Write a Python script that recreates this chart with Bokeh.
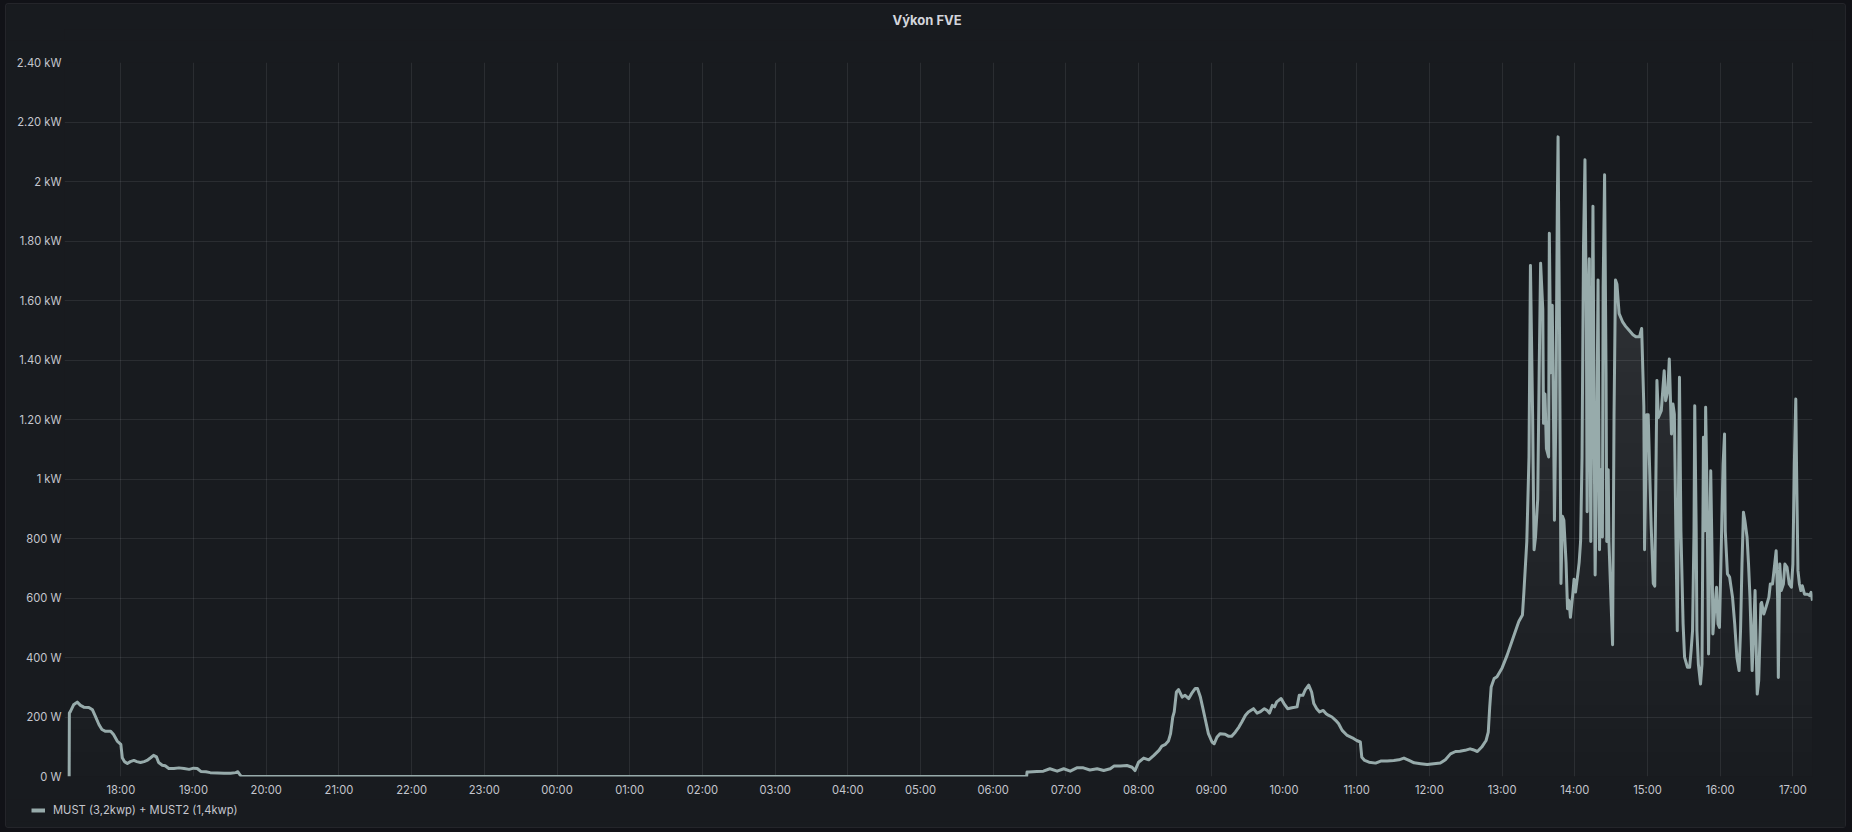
from datetime import datetime, timedelta
import calendar
import numpy as np
from bokeh.plotting import figure
from bokeh.layouts import column
from bokeh.models import Range1d, FixedTicker, DatetimeTickFormatter, Legend, LegendItem
from bokeh.embed import file_html
from bokeh.resources import INLINE

# ---------------- data ----------------
TITLE = "Výkon FVE"
SERIES_NAME = "MUST (3,2kwp) + MUST2 (1,4kwp)"

# day 1 (evening), hours of day
DAY1_H = [17.289, 17.292, 17.307, 17.35, 17.40, 17.445, 17.49, 17.56, 17.61, 17.65, 17.70,
          17.74, 17.79, 17.86, 17.90, 17.95, 18.00, 18.02, 18.05, 18.09, 18.13, 18.18, 18.22,
          18.27, 18.32, 18.36, 18.41, 18.45, 18.49, 18.52, 18.57, 18.61, 18.66, 18.73, 18.80,
          18.87, 18.94, 19.00, 19.05, 19.10, 19.17, 19.23, 19.33, 19.42, 19.51, 19.58, 19.61,
          19.64, 19.66]
DAY1_W = [0, 213, 219, 241, 250, 239, 233, 232, 224, 202, 174,
          158, 152, 152, 141, 119, 108, 63, 50, 44, 50, 54, 50,
          47, 50, 54, 63, 71, 66, 47, 38, 36, 27, 27, 29,
          27, 24, 28, 27, 17, 16, 13, 12, 11, 11, 13, 16,
          5, 0]

# day 2, hours of day
DAY2_H = [6.46, 6.465, 6.49, 6.60, 6.69, 6.78, 6.88, 6.97, 7.06, 7.15, 7.24, 7.33, 7.43, 7.52,
          7.61, 7.66, 7.75, 7.84, 7.91, 7.95, 8.00, 8.07, 8.14, 8.21, 8.28, 8.32, 8.37, 8.41,
          8.44, 8.47, 8.49, 8.52, 8.55, 8.60, 8.64, 8.69, 8.73, 8.78, 8.81, 8.85, 8.88, 8.92,
          8.96, 9.01, 9.04, 9.08, 9.12, 9.19, 9.24, 9.28, 9.33, 9.38, 9.42, 9.47, 9.51, 9.58,
          9.63, 9.67, 9.73, 9.77, 9.80, 9.84, 9.87, 9.90, 9.96, 10.00, 10.05, 10.11, 10.18,
          10.21, 10.26, 10.29, 10.34, 10.38, 10.41, 10.45, 10.49, 10.54, 10.58, 10.61, 10.66,
          10.71, 10.75, 10.80, 10.87, 10.94, 11.00, 11.05, 11.07, 11.11, 11.17, 11.26, 11.33,
          11.42, 11.51, 11.58, 11.65, 11.72, 11.79, 11.88, 11.97, 12.06, 12.15, 12.22, 12.29,
          12.36, 12.42, 12.49, 12.56, 12.60, 12.66, 12.72, 12.78, 12.81, 12.83, 12.85, 12.89,
          12.93, 12.97, 13.00, 13.07, 13.17, 13.23, 13.28, 13.30, 13.34, 13.37, 13.39, 13.42,
          13.44, 13.46, 13.49, 13.51, 13.53, 13.56, 13.57, 13.59, 13.61, 13.64, 13.65, 13.67,
          13.69, 13.71, 13.72, 13.74, 13.76, 13.77, 13.79, 13.81, 13.83, 13.85, 13.88, 13.90,
          13.92, 13.94, 13.97, 13.99, 14.01, 14.04, 14.06, 14.08, 14.10, 14.12, 14.14, 14.16,
          14.17, 14.19, 14.20, 14.22, 14.24, 14.25, 14.27, 14.28, 14.30, 14.32, 14.34, 14.36,
          14.38, 14.39, 14.41, 14.43, 14.44, 14.46, 14.47, 14.50, 14.52, 14.54, 14.56, 14.58,
          14.61, 14.66, 14.70, 14.75, 14.80, 14.84, 14.89, 14.92, 14.95, 14.96, 14.99, 15.01,
          15.05, 15.08, 15.10, 15.12, 15.13, 15.15, 15.19, 15.23, 15.25, 15.28, 15.30, 15.33,
          15.35, 15.37, 15.39, 15.41, 15.43, 15.44, 15.46, 15.49, 15.51, 15.55, 15.58, 15.60,
          15.62, 15.64, 15.65, 15.67, 15.68, 15.70, 15.73, 15.75, 15.77, 15.79, 15.80, 15.82,
          15.84, 15.86, 15.87, 15.89, 15.90, 15.92, 15.95, 15.97, 15.99, 16.01, 16.04, 16.06,
          16.07, 16.10, 16.13, 16.17, 16.20, 16.23, 16.26, 16.28, 16.30, 16.32, 16.34, 16.37,
          16.39, 16.41, 16.44, 16.46, 16.48, 16.50, 16.51, 16.53, 16.56, 16.57, 16.60, 16.63,
          16.67, 16.69, 16.72, 16.75, 16.77, 16.79, 16.80, 16.82, 16.84, 16.87, 16.89, 16.92,
          16.95, 16.98, 17.00, 17.02, 17.04, 17.05, 17.07, 17.09, 17.11, 17.13, 17.16, 17.20,
          17.23, 17.25, 17.27]
DAY2_W = [0, 15, 15, 17, 18, 26, 18, 26, 18, 29, 29, 22, 26, 20,
          26, 35, 35, 37, 31, 20, 48, 62, 56, 71, 88, 102, 108, 119,
          144, 200, 217, 284, 292, 267, 273, 262, 279, 296, 296, 267, 234, 189,
          144, 116, 110, 133, 144, 142, 135, 135, 149, 166, 183, 206, 217, 228,
          213, 217, 228, 222, 213, 239, 234, 251, 262, 245, 228, 231, 234,
          273, 273, 290, 307, 284, 245, 228, 217, 222, 211, 206, 200,
          189, 178, 155, 138, 130, 121, 116, 65, 54, 48, 45, 52,
          52, 54, 56, 62, 54, 46, 43, 40, 43, 45, 56, 76,
          84, 85, 88, 93, 90, 84, 99, 121, 149, 234, 301, 329,
          335, 352, 365, 408, 479, 521, 543, 620, 790, 1074, 1718, 1216,
          762, 805, 932, 1357, 1725, 1570, 1187, 1286, 1102, 1074, 1826, 1357,
          1584, 1145, 861, 1216, 1925, 2150, 1499, 649, 875, 861, 719, 564,
          592, 535, 606, 663, 620, 677, 719, 790, 1074, 1782, 2073, 1499,
          890, 1641, 1740, 790, 1499, 1917, 1046, 677, 1074, 1669, 762, 1031,
          805, 1641, 2023, 1357, 790, 1031, 790, 578, 443, 1216, 1669, 1655,
          1556, 1527, 1513, 1499, 1485, 1478, 1478, 1506, 1244, 762, 1216, 1216,
          847, 649, 640, 1100, 1331, 1207, 1230, 1364, 1263, 1297, 1403, 1151,
          1252, 1218, 826, 490, 1050, 1342, 826, 513, 401, 367, 367, 423,
          490, 826, 1246, 826, 490, 378, 311, 378, 1140, 826, 1241, 938,
          412, 826, 1028, 714, 479, 546, 636, 513, 501, 714, 1050, 1151,
          826, 681, 670, 602, 513, 401, 356, 490, 714, 888, 860, 804,
          714, 602, 356, 490, 625, 378, 277, 322, 580, 585, 546, 569,
          602, 647, 647, 714, 759, 602, 333, 714, 625, 647, 714, 703,
          647, 636, 714, 1050, 1269, 1050, 692, 647, 625, 641, 613, 613,
          608, 619, 591]

# hourly x ticks (day, hour)
X_TICKS = [(0, h) for h in range(18, 24)] + [(1, h) for h in range(0, 18)]
# y ticks and labels
Y_TICKS = [0, 200, 400, 600, 800, 1000, 1200, 1400, 1600, 1800, 2000, 2200, 2400]
Y_LABELS = ["0 W", "200 W", "400 W", "600 W", "800 W", "1 kW", "1.20 kW", "1.40 kW",
            "1.60 kW", "1.80 kW", "2 kW", "2.20 kW", "2.40 kW"]
X_START = (0, 17.225)
X_END = (1, 17.27)

# ---------------- build ----------------
BASE = datetime(2024, 5, 14)


def to_dt(day, h):
    return BASE + timedelta(days=day, hours=h)


xs = [to_dt(0, h) for h in DAY1_H] + [to_dt(1, h) for h in DAY2_H]
ys = np.array(DAY1_W + DAY2_W, dtype=float)

BG = "#181b1f"
LINE = "#97abab"
TEXT = "#c4c6ce"
FONT = "Inter"
TICK_SIZE = "11.2px"
W = 1839


def strip(height, **borders):
    f = figure(width=W, height=height, output_backend="svg", toolbar_location=None,
               x_axis_location=None, y_axis_location=None,
               background_fill_color=BG, border_fill_color=BG, outline_line_color=None,
               **borders)
    f.grid.visible = False
    f.frame_align = False
    return f


# ---- title strip ----
pt = strip(36, min_border_left=58, min_border_right=33, min_border_top=25, min_border_bottom=0)
pt.title.text = TITLE
pt.title.align = "left"
pt.title.offset = 828
pt.title.vertical_align = "top"
pt.title.standoff = 0
pt.title.text_font = FONT
pt.title.text_font_size = "13px"
pt.title.text_font_style = "bold"
pt.title.text_color = "#d3d5dc"

# ---- main chart ----
p = figure(width=W, height=759, output_backend="svg", toolbar_location=None,
           x_axis_type="datetime",
           x_range=Range1d(to_dt(*X_START), to_dt(*X_END)),
           y_range=Range1d(Y_TICKS[0], Y_TICKS[-1]),
           min_border_left=58, min_border_right=33, min_border_top=22, min_border_bottom=23,
           background_fill_color=BG, border_fill_color=BG, outline_line_color=None)
p.frame_align = False

# gradient-like fill (opacity increasing with height)
n_layers = 30
top_alpha = 0.40
thr = np.linspace(Y_TICKS[0], Y_TICKS[-1], n_layers + 1)[:-1]
for t in thr:
    if t > ys.max():
        break
    p.varea(x=xs, y1=np.full(len(ys), t), y2=np.maximum(ys, t),
            fill_color=LINE, fill_alpha=top_alpha / n_layers)

p.line(xs, ys, line_color=LINE, line_width=3, line_join="round")

tick_ms = [calendar.timegm(to_dt(d, h).timetuple()) * 1000 for d, h in X_TICKS]
p.xaxis.ticker = FixedTicker(ticks=tick_ms)
p.xaxis.formatter = DatetimeTickFormatter(hours="%H:%M", days="%H:%M", hourmin="%H:%M")
p.yaxis.ticker = FixedTicker(ticks=Y_TICKS)
p.yaxis.major_label_overrides = {t: l for t, l in zip(Y_TICKS, Y_LABELS)}

for ax in (p.xaxis[0], p.yaxis[0]):
    ax.axis_line_color = None
    ax.major_tick_line_color = None
    ax.minor_tick_line_color = None
    ax.major_tick_in = 0
    ax.major_tick_out = 0
    ax.major_label_text_font = FONT
    ax.major_label_text_font_size = TICK_SIZE
    ax.major_label_text_color = TEXT
p.xaxis.major_label_standoff = 6
p.yaxis.major_label_standoff = 3

p.xgrid.ticker = p.xaxis[0].ticker
p.ygrid.ticker = p.yaxis[0].ticker
for g in (p.xgrid[0], p.ygrid[0]):
    g.grid_line_color = "#ccccdc"
    g.grid_line_alpha = 0.1
    g.grid_line_width = 1

# ---- legend strip ----
pl = strip(28, min_border_left=0, min_border_right=0, min_border_top=0, min_border_bottom=6)
sw = pl.line(x=xs[:1], y=ys[:1], line_color=LINE, line_width=4, line_cap="butt")
legend = Legend(items=[LegendItem(label=SERIES_NAME, renderers=[sw])],
                location="left", orientation="horizontal",
                background_fill_alpha=0, border_line_alpha=0,
                padding=0, margin=25, spacing=0,
                glyph_width=14, glyph_height=16, label_standoff=8,
                label_text_font=FONT, label_text_font_size=TICK_SIZE,
                label_text_color=TEXT, label_height=16)
pl.add_layout(legend, "center")

layout = column(pt, p, pl, spacing=0,
                styles={"background-color": BG, "border-radius": "2px",
                        "outline": "1px solid rgba(204,204,220,0.10)"})
html = file_html(layout, INLINE)
html = html.replace("</head>",
                    "<style>body{background:#111217;padding:4px 0 0 6px;}</style></head>", 1)
open("out.html", "w").write(html)
